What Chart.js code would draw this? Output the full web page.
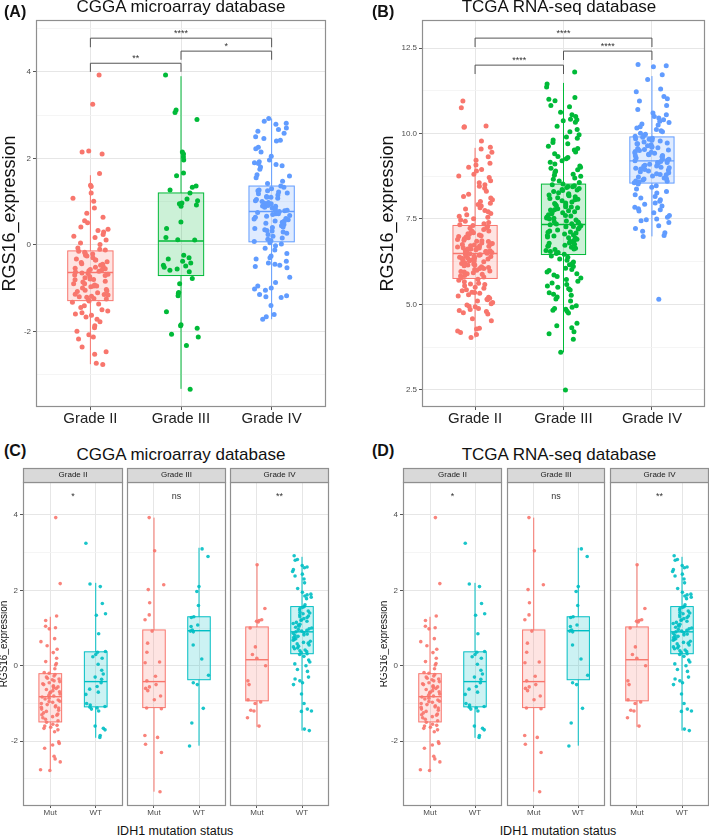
<!DOCTYPE html>
<html>
<head>
<meta charset="utf-8">
<script src="https://cdn.jsdelivr.net/npm/chart.js@4.4.1/dist/chart.umd.min.js"></script>
<style>
  body { margin: 0; width: 709px; height: 837px; overflow: hidden; background: #fff; position: relative;
         font-family: 'Liberation Sans', Arial, Helvetica, sans-serif; color: #111; }
  canvas, .t { position: absolute; }
  .lbl { font-weight: bold; font-size: 16px; line-height: 16px; white-space: nowrap; }
  .ttl { width: 330px; text-align: center; font-size: 17px; line-height: 17px; white-space: nowrap; }
  .xt { width: 330px; text-align: center; font-size: 12.5px; line-height: 12.5px; white-space: nowrap; }
</style>
</head>
<body>
<canvas id="cA" width="330" height="430" style="left:0;top:0"></canvas>
<canvas id="cB" width="331" height="430" style="left:378px;top:0"></canvas>
<canvas id="cC1" width="125" height="354" style="left:0;top:466px"></canvas>
<canvas id="cC2" width="103" height="354" style="left:125px;top:466px"></canvas>
<canvas id="cC3" width="103" height="354" style="left:228px;top:466px"></canvas>
<canvas id="cD1" width="124" height="354" style="left:380px;top:466px"></canvas>
<canvas id="cD2" width="102" height="354" style="left:505px;top:466px"></canvas>
<canvas id="cD3" width="103" height="354" style="left:608px;top:466px"></canvas>

<div class="t lbl" style="left:4px;top:4px">(A)</div>
<div class="t ttl" style="left:16px;top:-2px">CGGA microarray database</div>
<div class="t lbl" style="left:372px;top:4px">(B)</div>
<div class="t ttl" style="left:394px;top:-2px">TCGA RNA-seq database</div>
<div class="t lbl" style="left:4px;top:443px">(C)</div>
<div class="t ttl" style="left:16px;top:446px">CGGA microarray database</div>
<div class="t lbl" style="left:372px;top:443px">(D)</div>
<div class="t ttl" style="left:394px;top:446px">TCGA RNA-seq database</div>
<div class="t xt" style="left:10px;top:825px">IDH1 mutation status</div>
<div class="t xt" style="left:393px;top:825px">IDH1 mutation status</div>

<script>
// ---- data ----
const gradeLabels = ['Grade II', 'Grade III', 'Grade IV'];
const idhLabels = ['Mut', 'WT'];

// (A) CGGA microarray, RGS16 expression per grade
const cggaGrade2 = [3.93, 3.25, 2.17, 2.15, 2.1, 1.65, 1.38, 1.35, 1.2, 1.08, 1.01, 0.85, 0.73, 0.64, 0.56, 0.51, 0.41,
  0.36, 0.33, 0.3, 0.24, 0.2, 0.17, 0.11, 0.04, 0.01, -0.07, -0.12, -0.15, -0.17, -0.21, -0.24, -0.26, -0.3, -0.33,
  -0.35, -0.39, -0.41, -0.44, -0.47, -0.5, -0.52, -0.54, -0.57, -0.59, -0.61, -0.63, -0.66, -0.68, -0.71, -0.73,
  -0.76, -0.79, -0.81, -0.84, -0.86, -0.9, -0.93, -0.95, -0.97, -1.0, -1.03, -1.06, -1.08, -1.11, -1.14, -1.16,
  -1.19, -1.21, -1.24, -1.27, -1.3, -1.33, -1.37, -1.41, -1.45, -1.5, -1.53, -1.57, -1.6, -1.63, -1.67, -1.72,
  -1.78, -1.87, -1.92, -2.0, -2.08, -2.13, -2.18, -2.36, -2.47, -2.53, -2.74, -2.77, -0.2, -0.45, -0.6, -0.65,
  -0.8, -0.9, -1.05, -1.15, -1.2, -0.55, -0.35, -0.1, -0.7, -0.95, -1.25];
const cggaGrade3 = [3.93, 3.12, 3.06, 2.9, 2.15, 2.1, 2.03, 1.96, 1.66, 1.6, 1.36, 1.33, 1.27, 1.2, 1.06, 1.02, 0.95,
  0.92, 0.89, 0.97, 0.53, 0.38, 0.17, 0.12, 0.11, -0.24, -0.33, -0.38, -0.42, -0.47, -0.49, -0.52, -0.56, -0.59,
  -0.62, -0.3, -0.78, -0.9, -1.1, -1.12, -1.18, -1.55, -1.85, -1.87, -1.93, -2.07, -2.13, -2.33, -3.34];
const cggaGrade4 = [2.92, 2.86, 2.81, 2.79, 2.7, 2.67, 2.63, 2.58, 2.5, 2.46, 2.42, 2.4, 2.26, 2.22, 2.15, 2.05, 1.96,
  1.92, 1.9, 1.88, 1.86, 1.83, 1.8, 1.75, 1.62, 1.59, 1.55, 1.47, 1.42, 1.36, 1.33, 1.3, 1.27, 1.25, 1.22, 1.2,
  1.18, 1.15, 1.12, 1.1, 1.08, 1.05, 1.02, 1.0, 0.98, 0.96, 0.93, 0.91, 0.89, 0.87, 0.85, 0.83, 0.81, 0.79, 0.77,
  0.75, 0.72, 0.7, 0.68, 0.66, 0.64, 0.61, 0.58, 0.55, 0.52, 0.5, 0.47, 0.44, 0.41, 0.38, 0.35, 0.32, 0.3, 0.27,
  0.24, 0.2, 0.16, 0.13, 0.1, 0.08, 0.05, 0.02, -0.02, -0.08, -0.12, -0.2, -0.26, -0.3, -0.33, -0.38, -0.42,
  -0.45, -0.47, -0.5, -0.53, -0.75, -0.87, -0.95, -1.0, -1.02, -1.05, -1.15, -1.18, -1.2, -1.22, -1.4, -1.61,
  -1.66, -1.72, 1.1, 0.9, 0.8, 0.6, 0.4, 0.95, 0.72, 1.25, 0.55, 0.33];
// [lower whisker, Q1, median, Q3, upper whisker]
const cggaBoxes = [[-2.76, -1.29, -0.64, -0.14, 1.61], [-3.33, -0.71, 0.09, 1.2, 3.9], [-1.72, 0.07, 0.77, 1.36, 2.92]];
const cggaSig = [
  { from: 1, to: 2, y: 4.2, tip: 4.0, label: '**' },
  { from: 2, to: 3, y: 4.48, tip: 4.28, label: '*' },
  { from: 1, to: 3, y: 4.78, tip: 4.57, label: '****' }
];
const cggaYTicks = [-3, -2, -1, 0, 1, 2, 3, 4, 5];
const cggaYLabels = [-2, 0, 2, 4];

// (B) TCGA RNA-seq, RGS16 expression per grade
const tcgaGrade2 = [10.95, 10.75, 10.22, 10.2, 10.18, 9.78, 9.6, 9.55, 9.45, 9.32, 9.22, 9.13, 9.08, 9.01, 8.95, 8.9,
  8.81, 8.76, 8.71, 8.62, 8.56, 8.5, 8.46, 8.4, 8.31, 8.22, 8.16, 8.11, 8.06, 8.01, 7.96, 7.92, 7.88, 7.83, 7.79,
  7.75, 7.71, 7.66, 7.62, 7.58, 7.55, 7.51, 7.47, 7.43, 7.4, 7.36, 7.33,
  7.31, 7.28, 7.24, 7.23, 7.19, 7.14, 7.12, 7.1, 7.07, 7.03, 7.01, 6.99, 6.97, 6.92, 6.9, 6.88, 6.86, 6.84, 6.8,
  6.78, 6.77, 6.74, 6.71, 6.7, 6.68, 6.66, 6.62, 6.6, 6.58, 6.57, 6.55, 6.52, 6.5, 6.49, 6.47, 6.44, 6.42, 6.4,
  6.38, 6.36, 6.33, 6.31, 6.3, 6.27, 6.25, 6.22, 6.2, 6.18, 6.15, 6.13, 6.1, 6.08, 6.05, 6.02, 6.0, 5.98, 5.95,
  5.93, 5.9, 5.88, 5.85, 5.83, 5.8, 5.78, 6.65, 6.45, 6.35, 6.55, 6.75, 6.95, 7.05, 6.15, 5.96, 6.85, 6.62, 6.41,
  6.28, 7.15, 6.05, 6.72, 6.52, 6.36, 6.64, 6.48,
  5.74, 5.71, 5.66, 5.62, 5.58, 5.55, 5.5, 5.47, 5.43, 5.4, 5.36, 5.33, 5.28, 5.25, 5.21, 5.18, 5.14, 5.1, 5.06,
  5.02, 4.98, 4.93, 4.88, 4.85, 4.82, 4.79, 4.76, 4.72, 4.58, 4.52, 4.3, 4.28, 4.22, 4.18, 4.12, 4.03, 5.6, 5.35,
  5.15, 4.95];
const tcgaGrade3 = [11.8, 11.45, 11.36, 11.05, 11.0, 10.96, 10.82, 10.78, 10.62, 10.55, 10.5, 10.42, 10.4, 10.37,
  10.33, 10.21, 10.12, 10.05, 9.96, 9.9, 9.86, 9.81, 9.74, 9.7, 9.63, 9.56, 9.52, 9.46, 9.41, 9.33, 9.3, 9.26, 9.2,
  9.16, 9.11, 9.05, 9.01, 8.98, 8.94, 8.9, 8.86, 8.81, 8.78, 8.75, 8.7, 8.66, 8.61, 8.57,
  8.52, 8.5, 8.47, 8.44, 8.42, 8.39, 8.36, 8.33, 8.3, 8.27, 8.24, 8.21, 8.18, 8.15, 8.12, 8.1, 8.06, 8.03, 8.0,
  7.97, 7.95, 7.92, 7.89, 7.86, 7.83, 7.8, 7.77, 7.74, 7.71, 7.68, 7.65, 7.62, 7.59, 7.56, 7.53, 7.5, 7.47, 7.44,
  7.41, 7.38, 7.35, 7.33, 7.3, 7.27, 7.24, 7.21, 7.18, 7.15, 7.12, 7.09, 7.06, 7.03, 7.0, 6.97, 6.94, 6.91, 6.88,
  6.85, 6.82, 6.79, 6.76, 6.73, 6.7, 6.67, 6.64, 6.61, 6.58, 6.55, 6.52, 6.49, 6.47, 8.35, 8.08, 7.91, 7.76, 7.6,
  7.42, 7.28, 7.11, 6.95, 6.8, 6.62, 8.2, 7.85, 7.52, 7.36, 7.02, 6.72, 8.45, 7.7,
  6.42, 6.38, 6.33, 6.29, 6.24, 6.2, 6.16, 6.11, 6.06, 6.02, 5.99, 5.95, 5.9, 5.86, 5.82, 5.77, 5.73, 5.68, 5.63,
  5.58, 5.54, 5.5, 5.46, 5.42, 5.34, 5.3, 5.27, 5.22, 5.16, 5.1, 4.96, 4.92, 4.88, 4.86, 4.83, 4.8, 4.75, 4.45,
  4.38, 4.32, 4.2, 4.14, 3.98, 3.6, 2.5];
const tcgaGrade4 = [12.02, 11.98, 11.95, 11.72, 11.58, 11.3, 11.22, 11.08, 11.02, 10.95, 10.82, 10.7, 10.6, 10.55,
  10.5, 10.45, 10.4, 10.36, 10.32, 10.28, 10.25, 10.2, 10.16, 10.12, 10.08, 10.05, 10.01, 9.98, 9.95, 9.92,
  9.89, 9.86, 9.83, 9.8, 9.78, 9.75, 9.72, 9.7, 9.67, 9.64, 9.61, 9.58, 9.56, 9.53, 9.5, 9.47, 9.44, 9.42, 9.39,
  9.36, 9.33, 9.31, 9.28, 9.25, 9.22, 9.2, 9.18, 9.15, 9.12, 9.1, 9.07, 9.04, 9.01, 8.98, 8.96, 8.93, 8.9, 8.88,
  8.85, 8.82, 8.79, 8.76, 8.73, 8.7, 8.67, 8.64, 8.61, 8.58, 8.56, 9.6, 9.35, 9.05, 8.8, 9.45, 9.15, 8.95, 9.7,
  9.25, 8.68, 9.52, 9.0, 8.6, 9.38, 9.85,
  8.52, 8.47, 8.43, 8.38, 8.3, 8.26, 8.21, 8.16, 8.11, 8.06, 8.02, 7.97, 7.93, 7.88, 7.84, 7.8, 7.77, 7.73, 7.68,
  7.6, 7.55, 7.5, 7.48, 7.45, 7.4, 7.3, 7.22, 7.14, 7.1, 7.02, 6.99, 5.15];
const tcgaBoxes = [[4.03, 5.76, 6.49, 7.31, 9.58], [3.6, 6.46, 7.34, 8.52, 11.48], [6.99, 8.55, 9.2, 9.9, 11.68]];
const tcgaSig = [
  { from: 1, to: 2, y: 12.0, tip: 11.74, label: '****' },
  { from: 2, to: 3, y: 12.41, tip: 12.15, label: '****' },
  { from: 1, to: 3, y: 12.79, tip: 12.53, label: '****' }
];
const tcgaYTicks = [2.5, 3.75, 5, 6.25, 7.5, 8.75, 10, 11.25, 12.5];
const tcgaYLabels = [2.5, 5, 7.5, 10, 12.5];

// (C)/(D) RGS16 expression by IDH1 status within each grade
const idhG2Mut = [3.93, 2.18, 1.32, 1.2, 1.05, 1.01, 0.98, 0.72, 0.64, 0.53, 0.44, 0.35, 0.2, 0.11, 0.06, 0.02, -0.08,
  -0.18, -0.2, -0.23, -0.27, -0.3, -0.33, -0.37, -0.4, -0.42, -0.45, -0.48, -0.5, -0.53, -0.56, -0.58, -0.6, -0.63,
  -0.66, -0.69, -0.72, -0.75, -0.78, -0.8, -0.83, -0.86, -0.88, -0.91, -0.94, -0.97, -1.0, -1.03, -1.06, -1.09,
  -1.12, -1.15, -1.18, -1.21, -1.25, -1.28, -1.31, -1.35, -1.38, -1.42, -1.46, -1.5, -1.55, -1.58, -1.6, -1.63,
  -1.66, -1.7, -1.75, -2.02, -2.06, -2.1, -2.19, -2.4, -2.47, -2.55, -2.76, -2.78, -0.55, -0.7, -0.95, -1.1, -1.3,
  -0.35];
const idhG2Wt = [3.25, 2.17, 2.1, 1.65, 1.38, 1.34, 0.85, 0.38, 0.36, 0.3, 0.24, 0.2, 0.04, -0.12, -0.22, -0.3, -0.36,
  -0.45, -0.55, -0.62, -0.7, -0.76, -1.0, -1.04, -1.08, -1.1, -1.12, -1.15, -1.2, -1.6, -1.66, -1.7, -1.85, -1.9];
const idhG3Mut = [3.93, 3.05, 2.15, 2.02, 1.67, 1.35, 1.22, 0.92, 0.6, 0.36, 0.1, 0.08, -0.28, -0.4, -0.5, -0.56, -0.6,
  -0.66, -0.8, -0.9, -1.14, -1.12, -1.85, -1.9, -2.08, -2.3, -3.34];
const idhG3Wt = [3.1, 2.9, 2.1, 1.97, 1.6, 1.3, 1.28, 1.08, 1.04, 0.95, 0.92, 0.9, 0.55, 0.18, -0.25, -0.45, -0.5,
  -1.13, -1.52, -2.13];
const idhG4Mut = [2.68, 1.52, 1.22, 1.2, 1.18, 1.16, 1.0, 0.5, 0.3, 0.2, 0.0, -0.4, -0.5, -0.9, -0.96, -1.0, -1.18,
  -1.2, -1.38, -1.6];
const idhG4Wt = [2.92, 2.82, 2.8, 2.66, 2.62, 2.6, 2.55, 2.5, 2.43, 2.38, 2.3, 2.2, 2.05, 1.95, 1.9, 1.88, 1.85, 1.82,
  1.78, 1.62, 1.57, 1.55, 1.52, 1.48, 1.45, 1.42, 1.4, 1.38, 1.35, 1.32, 1.3, 1.28, 1.25, 1.22, 1.2, 1.18, 1.15,
  1.12, 1.1, 1.08, 1.05, 1.02, 1.0, 0.98, 0.96, 0.94, 0.92, 0.9, 0.88, 0.86, 0.84, 0.82, 0.8, 0.78, 0.75, 0.72,
  0.7, 0.68, 0.65, 0.62, 0.6, 0.58, 0.55, 0.52, 0.5, 0.47, 0.45, 0.42, 0.4, 0.38, 0.35, 0.32, 0.3, 0.25, 0.15,
  0.1, 0.05, 0.0, -0.1, -0.15, -0.3, -0.35, -0.4, -0.45, -0.5, -0.75, -1.0, -1.15, -1.2, -1.21, -1.68, -1.72];
const idhBoxes = [
  [[-2.76, -1.49, -0.82, -0.21, 1.3], [-1.91, -1.09, -0.42, 0.37, 2.2]],
  [[-3.34, -1.11, -0.42, 0.95, 3.93], [-2.12, -0.37, 0.93, 1.3, 3.13]],
  [[-1.62, -0.93, 0.16, 1.03, 2.68], [-1.72, 0.32, 0.9, 1.57, 2.89]]
];
const idhSig = ['*', 'ns', '**'];
const idhYTicks = [-3, -2, -1, 0, 1, 2, 3, 4];
const idhYLabels = [-2, 0, 2, 4];

// ---- drawing ----
const RED = '#F8766D', GREEN = '#00BA38', BLUE = '#619CFF', CYAN = '#00BFC4';
Chart.defaults.font.family = "'Liberation Sans', Arial, Helvetica, sans-serif";

// fixed pseudo-random horizontal spread, same every render
function jitter(i, w, seed) {
  const s = Math.sin((i + 1) * 12.9898 + seed * 78.233) * 43758.5453;
  return ((s - Math.floor(s)) - 0.5) * 2 * w;
}

function rgba(hex, a) {
  const n = parseInt(hex.slice(1), 16);
  return `rgba(${n >> 16},${(n >> 8) & 255},${n & 255},${a})`;
}

function line(ctx, x1, y1, x2, y2) {
  ctx.beginPath(); ctx.moveTo(x1, y1); ctx.lineTo(x2, y2); ctx.stroke();
}

function boxPanel(id, o) {
  const decor = {
    id: 'decor',
    beforeDatasetsDraw(chart) {
      const { ctx, chartArea: a, scales: { x, y } } = chart;
      ctx.save();
      ctx.beginPath(); ctx.rect(a.left, a.top, a.right - a.left, a.bottom - a.top); ctx.clip();
      o.groups.forEach(g => {
        const [lo, q1, med, q3, hi] = g.box.map(v => y.getPixelForValue(v));
        const cx = x.getPixelForValue(g.x);
        const hw = x.getPixelForValue(g.x + 0.25) - cx;
        ctx.fillStyle = rgba(g.color, 0.2);
        ctx.fillRect(cx - hw, q3, 2 * hw, q1 - q3);
        ctx.strokeStyle = g.color;
        ctx.lineWidth = 1;
        ctx.strokeRect(cx - hw, q3, 2 * hw, q1 - q3);
        line(ctx, cx, hi, cx, q3);
        line(ctx, cx, q1, cx, lo);
        ctx.lineWidth = 1.4;
        line(ctx, cx - hw, med, cx + hw, med);
      });
      ctx.restore();
    },
    afterDraw(chart) {
      const { ctx, chartArea: a, scales: { x, y } } = chart;
      ctx.save();
      ctx.strokeStyle = '#8f8f8f';
      ctx.lineWidth = 1.2;
      ctx.strokeRect(a.left + 0.5, a.top + 0.5, a.right - a.left - 1, a.bottom - a.top - 1);
      if (o.strip) {
        ctx.fillStyle = '#d9d9d9';
        ctx.fillRect(a.left, a.top - 14, a.right - a.left, 14);
        ctx.strokeRect(a.left + 0.5, a.top - 13.5, a.right - a.left - 1, 14);
        ctx.fillStyle = '#1a1a1a';
        ctx.font = "8px 'Liberation Sans', Arial, sans-serif";
        ctx.textAlign = 'center'; ctx.textBaseline = 'middle';
        ctx.fillText(o.strip, (a.left + a.right) / 2, a.top - 7);
      }
      ctx.font = "9px 'Liberation Sans', Arial, sans-serif";
      ctx.textAlign = 'center'; ctx.textBaseline = 'alphabetic';
      (o.brackets || []).forEach(b => {
        const x1 = x.getPixelForValue(b.from), x2 = x.getPixelForValue(b.to);
        const yl = y.getPixelForValue(b.y), yt = y.getPixelForValue(b.tip);
        ctx.strokeStyle = '#555'; ctx.lineWidth = 1;
        ctx.beginPath();
        ctx.moveTo(x1, yt); ctx.lineTo(x1, yl); ctx.lineTo(x2, yl); ctx.lineTo(x2, yt);
        ctx.stroke();
        ctx.fillStyle = '#333';
        ctx.fillText(b.label, (x1 + x2) / 2, yl - 2);
      });
      if (o.sig) {
        ctx.fillStyle = '#333';
        ctx.fillText(o.sig, x.getPixelForValue(1.5), y.getPixelForValue(4.42));
      }
      ctx.restore();
    }
  };

  const major = v => o.yLabels.includes(v);
  return new Chart(document.getElementById(id), {
    type: 'scatter',
    data: {
      datasets: o.groups.map((g, gi) => ({
        data: g.values.map((v, i) => ({ x: g.x + jitter(i, o.jit, gi + o.seed), y: v })),
        backgroundColor: rgba(g.color, o.alpha),
        borderWidth: 0,
        pointRadius: o.radius,
        pointHoverRadius: o.radius
      }))
    },
    options: {
      responsive: false,
      animation: false,
      devicePixelRatio: 1,
      events: [],
      layout: { padding: o.pad },
      plugins: { legend: { display: false }, tooltip: { enabled: false } },
      scales: {
        x: {
          type: 'linear', min: o.xMin, max: o.xMax,
          afterBuildTicks: s => { s.ticks = o.groups.map(g => ({ value: g.x })); },
          afterFit: s => { s.height = o.xHeight; },
          border: { display: false },
          grid: { color: '#e6e6e6', lineWidth: 1, tickColor: '#555', tickLength: o.tickLen },
          ticks: {
            autoSkip: false, maxRotation: 0, padding: 0,
            color: o.xColor, font: { size: o.xFont },
            callback: (v, i) => o.xLabels[i]
          }
        },
        y: {
          min: o.yMin, max: o.yMax,
          afterBuildTicks: s => { s.ticks = o.yTicks.map(v => ({ value: v })); },
          afterFit: s => { s.width = o.yWidth; },
          border: { display: false },
          grid: {
            color: c => c.tick && major(c.tick.value) ? '#e6e6e6' : '#f2f2f2',
            lineWidth: c => c.tick && major(c.tick.value) ? 1 : 0.8,
            tickColor: c => c.tick && major(c.tick.value) ? '#555' : 'rgba(0,0,0,0)',
            tickLength: 3,
            drawTicks: o.showY
          },
          ticks: {
            display: o.showY, padding: 2, color: '#4d4d4d', font: { size: 8 },
            callback: v => major(v) ? o.yFmt(v) : ''
          },
          title: {
            display: !!o.yTitle, text: 'RGS16_expression', color: '#111', padding: 0,
            font: { size: o.yTitle || 10, lineHeight: o.yTitleLH || 1.1 }
          }
        }
      }
    },
    plugins: [decor]
  });
}

const bigCommon = {
  xMin: 0.4, xMax: 3.6, xLabels: gradeLabels, xHeight: 23, xFont: 15, xColor: '#222', tickLen: 3,
  jit: 0.2, radius: 2.5, alpha: 1, showY: true, yTitle: 18, yTitleLH: 1.1
};

boxPanel('cA', Object.assign({}, bigCommon, {
  pad: { left: 0, right: 4, top: 20, bottom: 0 }, yWidth: 36, seed: 1,
  yMin: -3.75, yMax: 5.2, yTicks: cggaYTicks, yLabels: cggaYLabels, yFmt: v => String(v),
  brackets: cggaSig,
  groups: [
    { x: 1, values: cggaGrade2, box: cggaBoxes[0], color: RED },
    { x: 2, values: cggaGrade3, box: cggaBoxes[1], color: GREEN },
    { x: 3, values: cggaGrade4, box: cggaBoxes[2], color: BLUE }
  ]
}));

boxPanel('cB', Object.assign({}, bigCommon, {
  pad: { left: 0, right: 4, top: 20, bottom: 0 }, yWidth: 44, seed: 5,
  yMin: 2.0, yMax: 13.32, yTicks: tcgaYTicks, yLabels: tcgaYLabels, yFmt: v => v.toFixed(1),
  brackets: tcgaSig,
  groups: [
    { x: 1, values: tcgaGrade2, box: tcgaBoxes[0], color: RED },
    { x: 2, values: tcgaGrade3, box: tcgaBoxes[1], color: GREEN },
    { x: 3, values: tcgaGrade4, box: tcgaBoxes[2], color: BLUE }
  ]
}));

const idhValues = [[idhG2Mut, idhG2Wt], [idhG3Mut, idhG3Wt], [idhG4Mut, idhG4Wt]];

function facetRow(prefix) {
  [0, 1, 2].forEach(k => {
    const first = k === 0;
    boxPanel(prefix + (k + 1), {
      xMin: 0.4, xMax: 2.6, xLabels: idhLabels, xHeight: 14, xFont: 8, xColor: '#4d4d4d', tickLen: 2,
      jit: 0.22, radius: 1.8, alpha: 0.9, seed: 10 + 2 * k,
      pad: { left: first ? 0 : 2, right: 2, top: 16, bottom: 0 },
      yWidth: first ? 23 : 0, showY: first, yTitle: first ? 10 : 0, yTitleLH: 0.9,
      yMin: -3.72, yMax: 4.875, yTicks: idhYTicks, yLabels: idhYLabels, yFmt: v => String(v),
      strip: gradeLabels[k], sig: idhSig[k],
      groups: [
        { x: 1, values: idhValues[k][0], box: idhBoxes[k][0], color: RED },
        { x: 2, values: idhValues[k][1], box: idhBoxes[k][1], color: CYAN }
      ]
    });
  });
}
facetRow('cC');
facetRow('cD');
</script>
</body>
</html>
